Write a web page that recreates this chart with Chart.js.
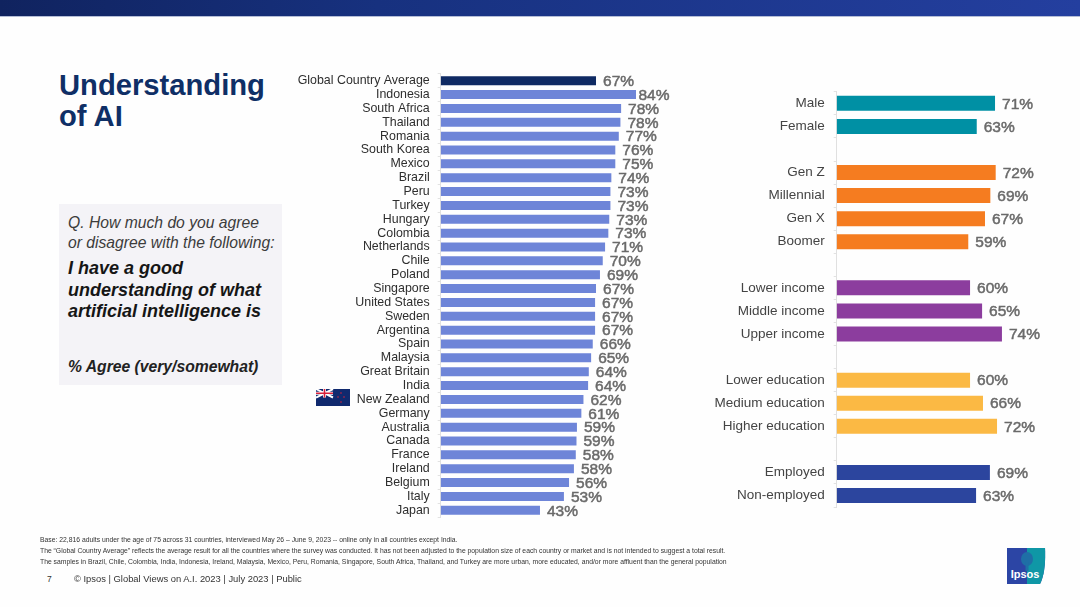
<!DOCTYPE html>
<html>
<head>
<meta charset="utf-8">
<script src="https://cdn.jsdelivr.net/npm/chart.js@4/dist/chart.umd.min.js"></script>
<style>
  html, body { margin: 0; padding: 0; background: #fefefe; }
  body { width: 1080px; height: 607px; position: relative; overflow: hidden; font-family: "Liberation Sans", Arial, sans-serif; }
  .abs { position: absolute; white-space: nowrap; }
  #topbar { left: 0; top: 0; width: 1080px; height: 16px; background: linear-gradient(90deg, #10235f, #17317f 35%, #243f9f); border-bottom: 1px solid #b4bdd6; }
  #title { left: 59px; top: 70px; font-size: 29.2px; line-height: 31px; font-weight: bold; color: #0f2f66; }
  #qbox { left: 59px; top: 204px; width: 223px; height: 181px; background: #f4f3f7; }
  #q1 { left: 68px; top: 213px; font-size: 15.7px; line-height: 19.5px; font-style: italic; color: #3c3c3c; }
  #q2 { left: 68px; top: 258px; font-size: 18px; line-height: 21.5px; font-style: italic; font-weight: bold; color: #161616; }
  #q3 { left: 68px; top: 358px; font-size: 15.7px; font-style: italic; font-weight: bold; color: #222; }
  .foot { left: 40px; font-size: 6.8px; color: #333; }
  #page { left: 47px; top: 574px; font-size: 8.5px; color: #333; }
  #copy { left: 74px; top: 573px; font-size: 9.4px; color: #333; }
  #flag { left: 316px; top: 389px; }
  #logo { left: 1007px; top: 548px; }
  #wrapLeft { position: absolute; left: 290px; top: 40px; width: 400px; height: 510px; }
  #wrapRight { position: absolute; left: 700px; top: 60px; width: 370px; height: 480px; }
</style>
</head>
<body>
<div class="abs" id="topbar"></div>
<div class="abs" id="title">Understanding<br>of AI</div>
<div class="abs" id="qbox"></div>
<div class="abs" id="q1">Q. How much do you agree<br>or disagree with the following:</div>
<div class="abs" id="q2">I have a good<br>understanding of what<br>artificial intelligence is</div>
<div class="abs" id="q3">% Agree (very/somewhat)</div>

<div id="wrapLeft"><canvas id="countryChart"></canvas></div>
<div id="wrapRight"><canvas id="groupChart"></canvas></div>

<svg class="abs" id="flag" width="34" height="17" viewBox="0 0 34 17">
  <rect width="34" height="17" fill="#10296e"/>
  <path d="M0 0L17 8.5M17 0L0 8.5" stroke="#fff" stroke-width="2"/>
  <path d="M8.5 0V8.5M0 4.25H17" stroke="#fff" stroke-width="3"/>
  <path d="M8.5 0V8.5M0 4.25H17" stroke="#d8203a" stroke-width="1.6"/>
  <g fill="#d8203a"><circle cx="25" cy="4" r=".8"/><circle cx="22" cy="8" r=".8"/><circle cx="28" cy="8" r=".8"/><circle cx="25" cy="13" r=".8"/></g>
</svg>

<div class="abs foot" style="top:536px">Base: 22,816 adults under the age of 75 across 31 countries, interviewed May 26 – June 9, 2023 -- online only in all countries except India.</div>
<div class="abs foot" style="top:547px">The “Global Country Average” reflects the average result for all the countries where the survey was conducted. It has not been adjusted to the population size of each country or market and is not intended to suggest a total result.</div>
<div class="abs foot" style="top:558px">The samples in Brazil, Chile, Colombia, India, Indonesia, Ireland, Malaysia, Mexico, Peru, Romania, Singapore, South Africa, Thailand, and Turkey are more urban, more educated, and/or more affluent than the general population</div>
<div class="abs" id="page">7</div>
<div class="abs" id="copy">© Ipsos | Global Views on A.I. 2023 | July 2023 | Public</div>

<svg class="abs" id="logo" width="39" height="37" viewBox="0 0 39 37">
  <defs><clipPath id="logoClip"><path d="M0 0H38C38.5 12 38 26 33 36H0Z"/></clipPath></defs>
  <g clip-path="url(#logoClip)">
    <rect width="39" height="37" fill="#2c45a5"/>
    <rect x="20" width="19" height="37" fill="#0f97a6"/>
    <ellipse cx="20" cy="11" rx="6" ry="7" fill="#1f6fa6"/>
    <rect x="18.5" y="14" width="3" height="9" fill="#1f6fa6"/>
  </g>
  <text x="18" y="30" text-anchor="middle" font-family="Liberation Sans" font-size="11" font-weight="bold" fill="#fff">Ipsos</text>
</svg>

<script>
// left chart, countries
const countries = ["Global Country Average", "Indonesia", "South Africa", "Thailand", "Romania", "South Korea", "Mexico", "Brazil", "Peru", "Turkey", "Hungary", "Colombia", "Netherlands", "Chile", "Poland", "Singapore", "United States", "Sweden", "Argentina", "Spain", "Malaysia", "Great Britain", "India", "New Zealand", "Germany", "Australia", "Canada", "France", "Ireland", "Belgium", "Italy", "Japan"];
// bar lengths as measured on the picture
const countryValues = [66.8, 84.0, 77.6, 77.3, 76.6, 75.1, 75.1, 73.4, 73.0, 73.0, 72.5, 72.1, 70.7, 69.7, 68.5, 66.8, 66.4, 66.4, 66.4, 65.4, 64.7, 63.7, 63.4, 61.4, 60.5, 58.6, 58.4, 58.1, 57.3, 55.2, 53.0, 42.7];
// the printed percentages
const countryLabels = [67, 84, 78, 78, 77, 76, 75, 74, 73, 73, 73, 73, 71, 70, 69, 67, 67, 67, 67, 66, 65, 64, 64, 62, 61, 59, 59, 58, 58, 56, 53, 43];

// right chart, demographics ("" rows are the gaps between groups)
const groups = ["Male", "Female", "", "Gen Z", "Millennial", "Gen X", "Boomer", "", "Lower income", "Middle income", "Upper income", "", "Lower education", "Medium education", "Higher education", "", "Employed", "Non-employed"];
const groupValues = [71.0, 62.8, null, 71.3, 68.9, 66.5, 59.0, null, 59.8, 65.2, 74.1, null, 59.8, 65.6, 71.9, null, 68.7, 62.5];
const groupLabels = [71, 63, null, 72, 69, 67, 59, null, 60, 65, 74, null, 60, 66, 72, null, 69, 63];

const countryColors = countries.map((c, i) => (i === 0 ? "#0f2a63" : "#6e85d8"));
const groupColors = ["#0090a4", "#0090a4", null, "#f57c20", "#f57c20", "#f57c20", "#f57c20", null, "#8c3d9e", "#8c3d9e", "#8c3d9e", null, "#fbb944", "#fbb944", "#fbb944", null, "#2c459e", "#2c459e"];

// prints the percentage behind each bar
const valueLabels = {
  id: "valueLabels",
  afterDatasetsDraw(chart, args, opts) {
    const ctx = chart.ctx;
    ctx.save();
    ctx.font = opts.font;
    ctx.fillStyle = "#6a6a6a";
    ctx.strokeStyle = "#6a6a6a";
    ctx.lineWidth = 0.5;
    ctx.textBaseline = "middle";
    chart.getDatasetMeta(0).data.forEach((bar, i) => {
      if (opts.texts[i] === null) return;
      // the longest bar has its label pulled in close
      const gap = opts.texts[i] === opts.tightFor ? 2.5 : opts.gap;
      ctx.fillText(opts.texts[i] + "%", bar.x + gap, bar.y + 1);
      ctx.strokeText(opts.texts[i] + "%", bar.x + gap, bar.y + 1);
    });
    ctx.restore();
  },
};

function makeChart(id, labels, values, colors, texts, cfg) {
  return new Chart(document.getElementById(id), {
    type: "bar",
    data: {
      labels: labels,
      datasets: [{ data: values, backgroundColor: colors, categoryPercentage: 1, barPercentage: 0.65 }],
    },
    options: {
      indexAxis: "y",
      responsive: true,
      maintainAspectRatio: false,
      animation: false,
      layout: { padding: cfg.padding, autoPadding: false },
      plugins: {
        legend: { display: false },
        tooltip: { enabled: false },
        valueLabels: { texts: texts, font: cfg.labelFont, gap: cfg.gap, tightFor: cfg.tightFor },
      },
      scales: {
        x: { display: false, min: 0, max: cfg.xMax },
        y: {
          afterFit: (scale) => { scale.width = cfg.yWidth; },
          grid: { drawOnChartArea: false, color: "#e2e2e2", tickLength: 3 },
          border: { color: "#e0e0e0" },
          ticks: { autoSkip: false, color: cfg.tickColor, font: { family: "Liberation Sans", size: cfg.tickSize }, padding: cfg.tickPad },
        },
      },
    },
    plugins: [valueLabels],
  });
}

// plot area left 440.7, 2.325px per point, rows 13.86px
// padding stays above the tick label margin, or the scale takes that margin instead
makeChart("countryChart", countries, countryValues, countryColors, countryLabels, {
  padding: { top: 33.8, bottom: 32.8, left: 0, right: 0 },
  xMax: 249.3 / 2.325,
  yWidth: 150.7,
  tickSize: 12.4,
  tickColor: "#2e2e2e",
  tickPad: 8,
  labelFont: "15.5px 'Liberation Sans'",
  gap: 7,
  tightFor: 84,
});

// plot area left 836.7, 2.23px per point, rows 23.07px
makeChart("groupChart", groups, groupValues, groupColors, groupLabels, {
  padding: { top: 31.8, bottom: 33, left: 0, right: 0 },
  xMax: 233.3 / 2.23,
  yWidth: 136.7,
  tickSize: 13.5,
  tickColor: "#444",
  tickPad: 9,
  labelFont: "15.5px 'Liberation Sans'",
  gap: 7,
});
</script>
</body>
</html>
